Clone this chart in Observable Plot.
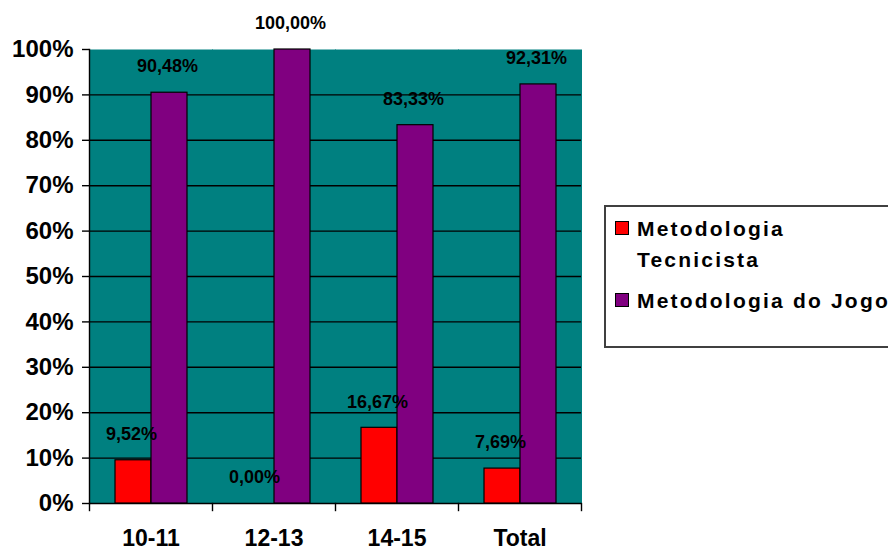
<!DOCTYPE html>
<html>
<head>
<meta charset="utf-8">
<script src="https://cdn.jsdelivr.net/npm/d3@7"></script>
<script src="https://cdn.jsdelivr.net/npm/@observablehq/plot@0.6"></script>
<style>
  html, body { margin: 0; padding: 0; background: #fff; }
  #wrap { position: relative; width: 888px; height: 549px; overflow: hidden;
          font-family: Arial, "Liberation Sans", sans-serif; }
  #legend { position: absolute; left: 604px; top: 205px; width: 320px; height: 139px;
            border: 2px solid #404040; background: #fff; box-sizing: content-box; }
  .item { position: absolute; left: 9px; display: flex; align-items: flex-start;
          font-weight: bold; font-size: 21px; letter-spacing: 2.2px; color: #000; line-height: 31px; }
  .sw { width: 12px; height: 12px; border: 1px solid #000; margin-top: 8px; margin-right: 8px; flex: none; }
</style>
</head>
<body>
<div id="wrap">
  <div id="chart"></div>
  <div id="legend"></div>
</div>
<script>
// Age groups and the share of each teaching methodology (percent)
const categories = ["10-11", "12-13", "14-15", "Total"];
const series = ["Metodologia Tecnicista", "Metodologia do Jogo"];
const tecnicista = [9.52, 0.00, 16.67, 7.69];
const jogo = [90.48, 100.00, 83.33, 92.31];
const yTicks = [0, 10, 20, 30, 40, 50, 60, 70, 80, 90, 100];
const colors = ["#ff0000", "#800080"];

const rows = categories.flatMap((cat, i) => [
  {cat, series: series[0], value: tecnicista[i]},
  {cat, series: series[1], value: jogo[i]}
]);

const fmt = v => v.toFixed(2).replace(".", ",") + "%";

const W = 888, H = 549;
const M = {top: 49, right: 306, bottom: 46, left: 88};
const innerH = H - M.top - M.bottom;
const tickLen = 7;

const chart = Plot.plot({
  width: W,
  height: H,
  marginTop: M.top,
  marginRight: M.right,
  marginBottom: M.bottom,
  marginLeft: M.left,
  style: {fontFamily: "Arial, 'Liberation Sans', sans-serif", background: "transparent", overflow: "visible"},
  fx: {domain: categories, padding: 0, label: null},
  x: {domain: series, paddingInner: 0, paddingOuter: 0.67, axis: null},
  y: {domain: [0, 100], label: null},
  color: {domain: series, range: colors},
  marks: [
    // teal plot area
    Plot.frame({fill: "#008080", stroke: "none", insetLeft: -0.5, insetRight: -0.5}),
    // horizontal grid lines (the 100% edge is left open)
    Plot.gridY(yTicks.filter(t => t < 100), {stroke: "#000", strokeOpacity: 1, strokeWidth: 1.4}),
    // vertical axis line
    Plot.frame({anchor: "left", facetAnchor: "left", stroke: "#000", strokeWidth: 1.4}),
    // category boundary ticks below the axis
    Plot.frame({anchor: "left", stroke: "#000", strokeWidth: 1.4, insetTop: innerH, insetBottom: -tickLen}),
    Plot.frame({anchor: "right", facetAnchor: "right", stroke: "#000", strokeWidth: 1.4, insetTop: innerH, insetBottom: -tickLen}),
    Plot.axisY({
      ticks: yTicks,
      tickFormat: d => d + "%",
      tickSize: tickLen,
      tickPadding: 9,
      fontSize: 24,
      fontWeight: "bold",
      stroke: "#000",
      strokeWidth: 1.4,
      label: null
    }),
    Plot.axisFx({
      anchor: "bottom",
      tickSize: 0,
      tickPadding: 26,
      fontSize: 23,
      fontWeight: "bold",
      label: null
    }),
    Plot.barY(rows, {fx: "cat", x: "series", y: "value", fill: "series", stroke: "#000", strokeWidth: 1.2}),
    Plot.text(rows, {
      fx: "cat", x: "series", y: "value",
      text: d => fmt(d.value),
      dy: -26, dx: -2,
      fontSize: 18,
      fontWeight: "bold",
      fill: "#000"
    })
  ]
});
document.getElementById("chart").appendChild(chart);

// legend
const legend = document.getElementById("legend");
const legendItems = [
  {label: "Metodologia<br>Tecnicista", color: colors[0], top: 6},
  {label: "Metodologia do Jogo", color: colors[1], top: 78}
];
legendItems.forEach(it => {
  const el = document.createElement("div");
  el.className = "item";
  el.style.top = it.top + "px";
  el.innerHTML = `<span class="sw" style="background:${it.color}"></span><span>${it.label}</span>`;
  legend.appendChild(el);
});
</script>
</body>
</html>
